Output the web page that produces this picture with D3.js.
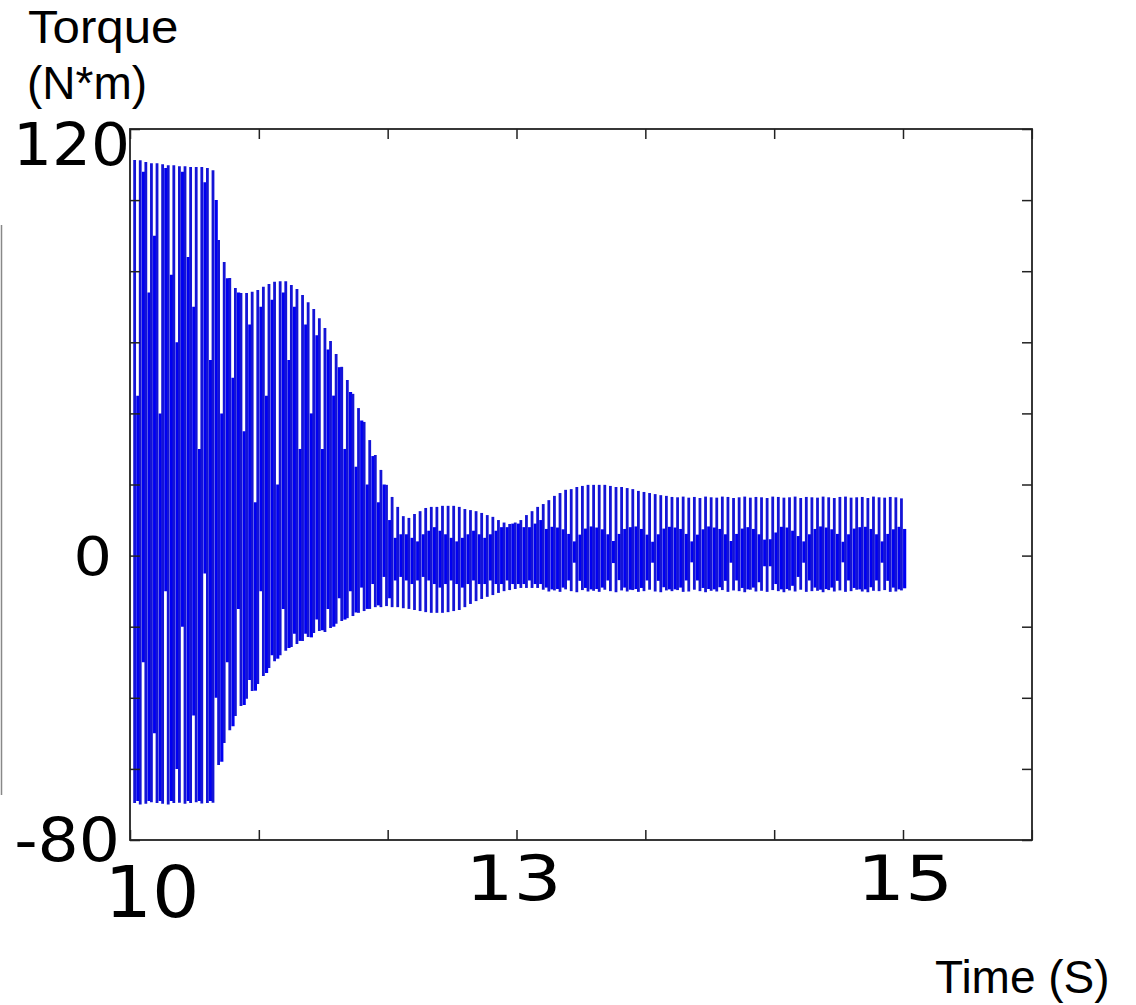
<!DOCTYPE html>
<html>
<head>
<meta charset="utf-8">
<script src="https://cdn.jsdelivr.net/npm/d3@7"></script>
<style>
  body { margin: 0; background: #fff; }
</style>
</head>
<body>
<div id="chart"></div>
<script>
const tStart = 10.03, tEnd = 14.99;

const upper = [
  111.3, 111.2, 110.7, 110.4, 110.4, 110.1, 109.8, 109.8, 109.5, 109.5, 109.3, 109.3, 109.3, 109.0, 108.4,
  88.8, 82.6, 78.1, 75.3, 73.9, 73.9, 74.2, 74.7, 75.6, 76.4, 77.0, 77.2, 77.2, 76.1, 75.0,
  73.3, 71.3, 69.4, 66.8, 64.0, 60.4, 56.7, 53.1, 49.4, 45.5, 41.5, 37.6, 32.5, 28.3, 24.1, 19.9,
  16.5, 13.7, 11.1, 10.6, 11.7, 12.5, 13.4, 13.7, 13.7, 14.0, 14.0, 14.0, 13.7, 13.1, 12.8, 12.5, 12.0, 11.4, 10.9, 10.0, 9.3, 8.9, 9.3, 10.0, 11.4, 12.5, 13.7,
  14.5, 15.6, 16.8, 17.6, 18.5, 18.7, 19.3, 19.6, 19.9, 19.9, 19.9, 19.9, 19.6, 19.3, 19.3, 19.0, 18.7, 18.2, 17.9, 17.6, 17.3, 17.0, 16.8, 16.5,
  16.4, 16.6, 16.3, 16.5, 16.2, 16.6, 16.4, 16.3, 16.6, 16.5,
  16.2, 16.4, 16.6, 16.3, 16.5, 16.4, 16.2, 16.6, 16.5, 16.3,
  16.4, 16.6, 16.2, 16.5, 16.4, 16.3, 16.6, 16.4, 16.2, 16.5,
  16.6, 16.3, 16.4, 16.5, 16.2, 16.6, 16.4, 16.3, 16.5, 16.4,
  16.1
];

const lower = [
  -69.6, -70.0, -69.8, -69.4, -69.6, -69.8, -70.0, -69.6, -69.5, -69.8, -69.6, -69.4, -69.7, -69.6, -69.5,
  -58.9, -52.7, -49.1, -45.1, -42.3, -40.3, -38.1, -36.1, -33.9, -31.6, -29.7, -28.0, -26.8, -25.7, -24.9,
  -24.0, -22.9, -21.8, -21.2, -21.5, -20.4, -19.2, -18.4, -17.6, -17.0, -16.1, -15.6, -15.0, -14.5, -14.5, -14.2,
  -14.5, -14.5, -14.8, -15.0, -15.3, -15.6, -15.9, -16.1, -16.1, -16.1, -15.9, -15.6, -15.3, -14.5, -13.6, -12.8, -12.2, -11.6, -11.1, -10.5, -10.0, -9.7, -9.4, -9.1, -9.1, -9.1, -9.1,
  -9.6, -10.1, -9.8, -10.2, -9.5, -10.0, -10.3, -9.7, -10.1, -9.9,
  -10.2, -9.6, -10.0, -10.3, -9.8, -10.1, -9.7, -10.2, -10.0, -9.6,
  -10.1, -10.3, -9.8, -10.0, -9.7, -10.2, -10.1, -9.6, -10.0, -10.3,
  -9.9, -10.1, -9.7, -10.2, -9.8, -10.0, -10.3, -9.6, -10.1, -9.9,
  -10.2, -9.7, -10.0, -10.3, -9.8, -10.1, -9.6, -10.2, -10.0, -9.9,
  -10.3, -9.7, -10.1, -9.8, -10.2, -10.0, -9.6, -10.1, -10.3, -9.9,
  -10.0, -9.7, -10.2, -10.1, -9.8
];

// the inner (denser) part of each stroke
const innerHi = [
  45, 108, 74, 90, 40, 109, 79, 60, 108, 84, 70, 30, 105, 55, 100,
  40, 78, 50, 74, 35, 65, 15, 70, 45, 72, 20, 74, 55, 70, 30,
  65, 40, 62, 30, 58, 45, 53, 30, 46, 25, 38, 20, 28, 15, 20, 10,
  5, 6, 6, 5, 4, 6, 7, 8, 7, 6, 5, 4, 5, 6, 7, 6, 5, 6, 7, 8, 8, 9, 9, 8, 8, 9, 10,
  7.5, 8.1, 7.9, 7.4, 6.1, 4.0, 5.9, 7.6, 8.2, 7.9,
  7.4, 6.0, 4.1, 6.1, 7.5, 8.0, 8.2, 7.5, 5.9, 3.9,
  6.0, 7.6, 8.1, 7.9, 7.5, 6.1, 4.0, 5.9, 7.4, 8.2,
  7.9, 7.5, 6.0, 4.1, 6.1, 7.6, 8.0, 7.5, 6.0, 4.5,
  4.6, 6.5, 8.1, 7.9, 7.0, 5.5, 4.0, 6.0, 7.5, 8.2,
  7.9, 7.4, 6.1, 3.9, 6.0, 7.6, 8.0, 8.1, 7.5, 6.0,
  4.0, 6.1, 7.4, 8.1, 7.5
];

const innerLo = [
  -69, -30, -69, -50, -69, -10, -69, -60, -20, -69, -45, -69, -5, -69, -40,
  -58, -30, -48, -15, -42, -35, -38, -10, -33, -28, -29, -15, -26, -22, -24,
  -22, -23, -18, -21, -15, -20, -12, -18, -10, -16, -9, -15, -8, -14, -6, -12,
  -7, -6, -7, -8, -7, -6, -7, -8, -9, -8, -7, -8, -9, -8, -7, -8, -8, -7, -8, -8, -7, -8, -8, -8, -7, -8, -8,
  -9.0, -9.5, -9.4, -9.0, -7.0, -2.0, -7.1, -9.1, -9.5, -9.4,
  -9.0, -7.0, -2.1, -6.9, -9.0, -9.6, -9.4, -9.1, -7.0, -2.0,
  -7.1, -8.9, -9.5, -9.5, -9.0, -7.0, -1.9, -7.0, -9.1, -9.4,
  -9.5, -8.9, -7.1, -2.0, -7.0, -9.1, -9.5, -9.0, -7.5, -3.0,
  -3.0, -8.0, -9.5, -9.4, -8.5, -6.0, -2.0, -7.0, -9.0, -9.6,
  -9.4, -9.0, -7.1, -1.9, -7.0, -9.1, -9.5, -9.5, -8.9, -7.0,
  -2.0, -7.1, -9.0, -9.5, -9.2
];

const xTickValues = [10, 10 + 5 / 6, 10 + 10 / 6, 12.5, 10 + 20 / 6, 10 + 25 / 6, 15, 10 + 35 / 6];
const yTickValues = [-80, -60, -40, -20, 0, 20, 40, 60, 80, 100, 120];
const xTickLabels = [
  { at: 10, text: "10" },
  { at: 12.5, text: "13" },
  { at: 15, text: "15" }
];
const yTickLabels = [
  { at: 120, text: "120" },
  { at: 0, text: "0" },
  { at: -80, text: "-80" }
];

// layout
const W = 1136, H = 1005;
const box = { left: 130, right: 1032, top: 129, bottom: 840 };
const xLabelStyle = [
  { dx: 22, base: 917, size: 71, sx: 1.05 },
  { dx: -3, base: 900, size: 62, sx: 1.22 },
  { dx: 2, base: 900, size: 62, sx: 1.22 }
];
const yLabelStyle = [
  { end: 130, dy: 36, size: 59, sx: 1.04 },
  { end: 112, dy: 19, size: 54, sx: 1.12 },
  { end: 120, dy: 21, size: 60, sx: 1.08 }
];

const svg = d3.select("#chart").append("svg")
  .attr("width", W)
  .attr("height", H)
  .style("background", "#fff");

const x = d3.scaleLinear().domain([10, 15]).range([box.left, 903]);
const y = d3.scaleLinear().domain([-80, 120]).range([box.bottom, box.top]);

const n = upper.length;
const step = (tEnd - tStart) / (n - 1);
const strokes = upper.map((u, i) => ({
  t: tStart + i * step,
  hi: u,
  lo: lower[i],
  ihi: innerHi[i],
  ilo: innerLo[i]
}));

const plot = svg.append("g");

plot.selectAll("line.inner")
  .data(strokes)
  .enter()
  .append("line")
  .attr("class", "inner")
  .attr("x1", d => x(d.t) + 3.2)
  .attr("x2", d => x(d.t) + 3.2)
  .attr("y1", d => y(d.ilo))
  .attr("y2", d => y(d.ihi))
  .attr("stroke", "#0000f2")
  .attr("stroke-width", 3.2);

plot.selectAll("line.main")
  .data(strokes)
  .enter()
  .append("line")
  .attr("class", "main")
  .attr("x1", d => x(d.t))
  .attr("x2", d => x(d.t))
  .attr("y1", d => y(d.lo))
  .attr("y2", d => y(d.hi))
  .attr("stroke", "#1414d6")
  .attr("stroke-width", 2.8);

// box and inward ticks on all four sides
const axes = svg.append("g").attr("class", "axes");
axes.append("g")
  .attr("transform", `translate(0,${box.bottom})`)
  .call(d3.axisBottom(x).tickValues(xTickValues).tickSizeInner(-10).tickSizeOuter(0).tickFormat(""));
axes.append("g")
  .attr("transform", `translate(0,${box.top})`)
  .call(d3.axisTop(x).tickValues(xTickValues).tickSizeInner(-10).tickSizeOuter(0).tickFormat(""));
axes.append("g")
  .attr("transform", `translate(${box.left},0)`)
  .call(d3.axisLeft(y).tickValues(yTickValues).tickSizeInner(-10).tickSizeOuter(0).tickFormat(""));
axes.append("g")
  .attr("transform", `translate(${box.right},0)`)
  .call(d3.axisRight(y).tickValues(yTickValues).tickSizeInner(-10).tickSizeOuter(0).tickFormat(""));

axes.selectAll(".domain").remove();
axes.selectAll(".tick line").attr("stroke", "#222").attr("stroke-width", 1.5);

svg.append("rect")
  .attr("x", box.left)
  .attr("y", box.top)
  .attr("width", box.right - box.left)
  .attr("height", box.bottom - box.top)
  .attr("fill", "none")
  .attr("stroke", "#222")
  .attr("stroke-width", 1.8);

// tick labels
svg.append("g").selectAll("text")
  .data(xTickLabels)
  .enter()
  .append("text")
  .attr("transform", (d, i) => `translate(${x(d.at) + xLabelStyle[i].dx},${xLabelStyle[i].base}) scale(${xLabelStyle[i].sx},1)`)
  .attr("text-anchor", "middle")
  .style("font-family", "DejaVu Sans")
  .style("font-size", (d, i) => xLabelStyle[i].size + "px")
  .attr("fill", "#000")
  .text(d => d.text);

svg.append("g").selectAll("text")
  .data(yTickLabels)
  .enter()
  .append("text")
  .attr("transform", (d, i) => `translate(${yLabelStyle[i].end},${y(d.at) + yLabelStyle[i].dy}) scale(${yLabelStyle[i].sx},1)`)
  .attr("text-anchor", "end")
  .style("font-family", "DejaVu Sans")
  .style("font-size", (d, i) => yLabelStyle[i].size + "px")
  .attr("fill", "#000")
  .text(d => d.text);

// axis titles
const title = svg.append("g")
  .style("font-family", "Liberation Sans, Arial, sans-serif")
  .style("font-size", "46px")
  .attr("fill", "#000");
title.append("text").attr("transform", "translate(28,43) scale(1.07,1)").text("Torque");
title.append("text").attr("x", 27).attr("y", 99).text("(N*m)");
title.append("text").attr("x", 935).attr("y", 993).text("Time (S)");

// thin grey edge mark at the far left
svg.append("line")
  .attr("x1", 1.5).attr("x2", 1.5)
  .attr("y1", 225).attr("y2", 795)
  .attr("stroke", "#888")
  .attr("stroke-width", 1.5);
</script>
</body>
</html>
